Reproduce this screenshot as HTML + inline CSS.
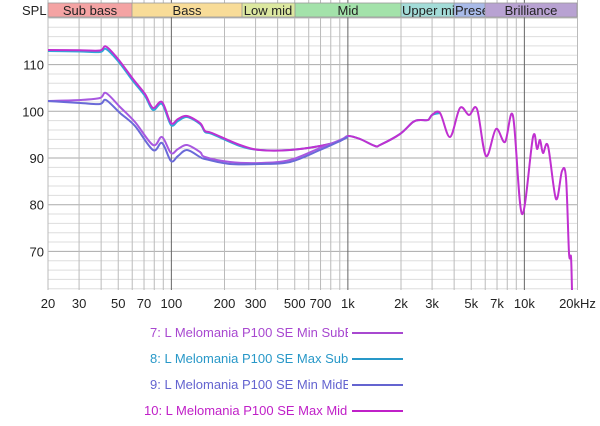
<!DOCTYPE html>
<html><head><meta charset="utf-8"><style>
body{margin:0;background:#fff;width:600px;height:426px;overflow:hidden;font-family:"Liberation Sans",sans-serif;}
svg{display:block}
</style></head><body>
<svg id="s" width="600" height="426" xmlns="http://www.w3.org/2000/svg" font-family="Liberation Sans, sans-serif">
<g id="grid"></g>
<g font-size="13" fill="#222">
<text x="22" y="15">SPL</text>
<rect x="48" y="3" width="84" height="14" fill="#f4a3a3"/>
<rect x="132" y="3" width="110" height="14" fill="#f8dc98"/>
<rect x="242" y="3" width="53" height="14" fill="#dce8a0"/>
<rect x="295" y="3" width="106" height="14" fill="#a3e2aa"/>
<rect x="401" y="3" width="53" height="14" fill="#a3dcd8"/>
<rect x="454" y="3" width="31" height="14" fill="#a8bae8"/>
<rect x="485" y="3" width="92" height="14" fill="#b8a2d2"/>
<g stroke="#999" stroke-width="0.8" fill="none"><rect x="48" y="3" width="529" height="14"/>
<line x1="132" y1="3" x2="132" y2="17"/><line x1="242" y1="3" x2="242" y2="17"/><line x1="295" y1="3" x2="295" y2="17"/><line x1="401" y1="3" x2="401" y2="17"/><line x1="454" y1="3" x2="454" y2="17"/><line x1="485" y1="3" x2="485" y2="17"/></g>
<text x="90" y="15" text-anchor="middle">Sub bass</text>
<text x="187" y="15" text-anchor="middle">Bass</text>
<text x="268" y="15" text-anchor="middle">Low mid</text>
<text x="348" y="15" text-anchor="middle">Mid</text>
<svg x="401" y="3" width="53" height="14" overflow="hidden"><text x="1" y="12">Upper mid</text></svg>
<svg x="454" y="3" width="31" height="14" overflow="hidden"><text x="1" y="12">Presence</text></svg>
<text x="531" y="15" text-anchor="middle">Brilliance</text>
</g>
<g id="curves" fill="none" stroke-width="2" stroke-linejoin="round"></g>
<svg x="100" y="322" width="248" height="100" overflow="hidden" font-size="13">
<text x="50" y="15" fill="#a848d0">7: L Melomania P100 SE Min SubBass</text>
<text x="50" y="41" fill="#2898c8">8: L Melomania P100 SE Max SubBass</text>
<text x="50" y="67" fill="#6464d0">9: L Melomania P100 SE Min MidBass</text>
<text x="44" y="93" fill="#c020c8">10: L Melomania P100 SE Max MidBass</text>
</svg>
<g stroke-width="2">
<line x1="352" y1="333" x2="403" y2="333" stroke="#a848d0"/>
<line x1="352" y1="359" x2="403" y2="359" stroke="#2898c8"/>
<line x1="352" y1="385" x2="403" y2="385" stroke="#6464d0"/>
<line x1="352" y1="411" x2="403" y2="411" stroke="#c020c8"/>
</g>
</svg>
<script>
var g=document.getElementById('grid'),h='';
function X(f){return 48+176.5*Math.log10(f/20);}
function Y(v){return 111.3-(v-100)*4.67;}
var top=19,bot=290;
for(var v=62;v<=120;v+=2){var y=Y(v);h+='<line x1="48" x2="577" y1="'+y+'" y2="'+y+'" stroke="'+(v%10==0?'#aaa':'#ddd')+'" stroke-width="1"/>';}
var fs=[20,30,40,50,60,70,80,90,100,200,300,400,500,600,700,800,900,1000,2000,3000,4000,5000,6000,7000,8000,9000,10000,20000];
fs.forEach(function(f){var x=X(f);var d=(f==100||f==1000||f==10000);h+='<line y1="'+top+'" y2="'+bot+'" x1="'+x+'" x2="'+x+'" stroke="'+(d?'#666':'#bbb')+'" stroke-width="1"/>';});
h+='<rect x="48" y="'+top+'" width="529" height="'+(bot-top)+'" fill="none" stroke="#bbb"/>';
[110,100,90,80,70].forEach(function(a){h+='<text x="44" y="'+(Y(a)+5)+'" text-anchor="end" font-size="13" fill="#222">'+a+'</text>';});
[[20,'20'],[30,'30'],[50,'50'],[70,'70'],[100,'100'],[200,'200'],[300,'300'],[500,'500'],[700,'700'],[1000,'1k'],[2000,'2k'],[3000,'3k'],[5000,'5k'],[7000,'7k'],[10000,'10k'],[20000,'20kHz']].forEach(function(a){h+='<text x="'+X(a[0])+'" y="308" text-anchor="middle" font-size="13" fill="#222">'+a[1]+'</text>';});
g.innerHTML=h;
function cr(s){var p=s.trim().split(/\s+/).map(function(q){return q.split(',').map(Number);});
var d='M'+p[0][0]+','+p[0][1];
for(var i=0;i<p.length-1;i++){var p0=p[i-1]||p[i],p1=p[i],p2=p[i+1],p3=p[i+2]||p2;
var c1=[p1[0]+(p2[0]-p0[0])/6,p1[1]+(p2[1]-p0[1])/6],c2=[p2[0]-(p3[0]-p1[0])/6,p2[1]-(p3[1]-p1[1])/6];
d+=' C'+c1[0].toFixed(1)+','+c1[1].toFixed(1)+' '+c2[0].toFixed(1)+','+c2[1].toFixed(1)+' '+p2[0]+','+p2[1];}
return d;}
var C=[
['#30a8d8','48,51 80,51.5 100,52 106,49 118,61 133,81 145,96 153,110 162,104 171,125 178,121 187,117 200,124 205,132 212,134 240,146 260,150 290,150 320,146 340,141 348,136 360,139 375,146 380,145 400,134 413,122 420,120 428,120 432,115 440,113'],
['#c030d0','48,50 80,50.3 100,50.5 106,46.5 118,59 133,79 145,94 153,108 162,102 171,123 178,119 187,116 200,123 205,131 212,133 240,145 260,150 290,150 320,146 340,141 348,136 360,139 375,146 380,145 400,134 413,122 420,120 428,120 432,115 440,113 450,137 460,108 469,115 477,109 486,156 496,129 505,142 513,116 522,214 533,137 537,149 540,140 543,153 548,146 556,199 562,171 566,178 569,253 571,257 572,290'],
['#a858e0','48,101 80,100 100,98 106,93 120,107 135,122 153,145 162,137 171,153 178,149 187,145 200,152 205,157 230,162 260,163 290,160 320,148 340,140 348,136'],
['#6a6ad8','48,101 80,103 100,104 106,100 120,113 135,126 153,150 162,143 171,161 178,156 187,150 200,157 205,159 230,164 260,164 290,162 320,150 340,141 348,137']];
var ch='';C.forEach(function(c){ch+='<path stroke="'+c[0]+'" d="'+cr(c[1])+'"/>';});
document.getElementById('curves').innerHTML=ch;
</script>
</body></html>
